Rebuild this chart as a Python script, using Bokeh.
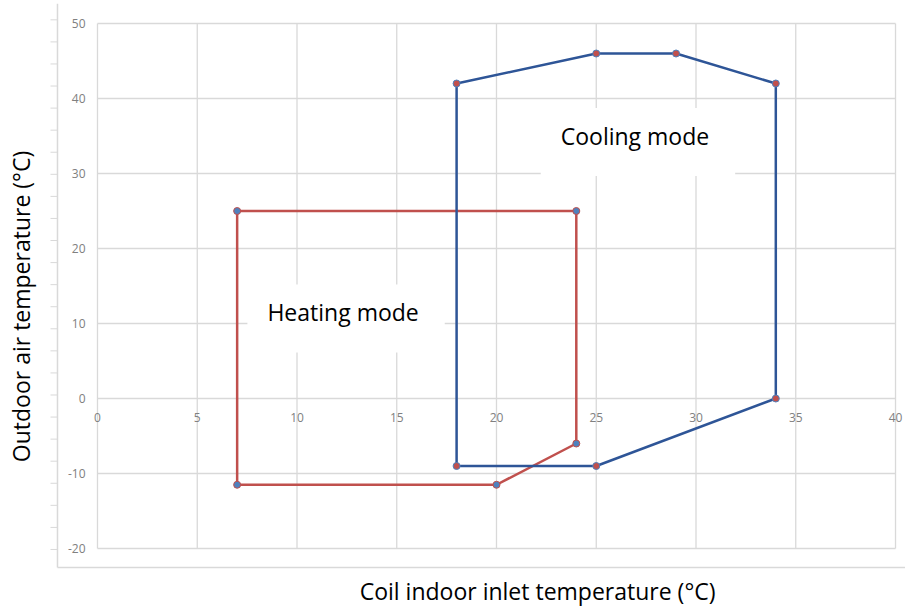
import numpy as np
from bokeh.plotting import figure
from bokeh.models import Range1d, Label
from bokeh.core.properties import value
from bokeh.embed import file_html
from bokeh.resources import INLINE

# ---- data ----
heat_x = [7, 24, 24, 20, 7, 7]
heat_y = [25, 25, -6, -11.5, -11.5, 25]
cool_x = [18, 25, 29, 34, 34, 25, 18, 18]
cool_y = [42, 46, 46, 42, 0, -9, -9, 42]

x_ticks = [0, 5, 10, 15, 20, 25, 30, 35, 40]
y_ticks = [-20, -10, 0, 10, 20, 30, 40, 50]
x_tick_labels = [str(v) for v in x_ticks]
y_tick_labels = [str(v) for v in y_ticks]
outer_ticks = list(np.linspace(-20.13, 50.49, 25))

x_title = "Coil indoor inlet temperature (°C)"
y_title = "Outdoor air temperature (°C)"
cool_text = "Cooling mode"
heat_text = "Heating mode"

RED = "#c0504d"
BLUE = "#2e5597"
MBLUE = "#4f81bd"
GRID = "#d9d9d9"
TICKC = "#808080"
FONT = "Open Sans"

X0, X1 = -4.862, 40.501
Y0, Y1 = -28.4, 52.667
p = figure(width=905, height=611, output_backend="svg", toolbar_location=None,
           title=None, x_range=Range1d(X0, X1), y_range=Range1d(Y0, Y1),
           min_border_left=0, min_border_right=0, min_border_top=3, min_border_bottom=0)
p.outline_line_color = None
p.background_fill_color = "white"
p.border_fill_color = "white"
p.xgrid.visible = False
p.ygrid.visible = False
p.axis.visible = False

# outer frame (left and bottom edges) with small outside ticks on the left edge
ox = -2.005
oy = -22.533
tick_len = 0.351
p.segment(x0=[ox, ox], x1=[ox, X1], y0=[Y1, oy], y1=[oy, oy],
          line_color=GRID, line_width=1.5)
p.segment(x0=[ox - tick_len] * len(outer_ticks), x1=[ox] * len(outer_ticks),
          y0=outer_ticks, y1=outer_ticks, line_color=GRID, line_width=1)

# inner grid
xmin, xmax = x_ticks[0], x_ticks[-1]
ymin, ymax = y_ticks[0], y_ticks[-1]
p.segment(x0=x_ticks, x1=x_ticks, y0=[ymin] * len(x_ticks), y1=[ymax] * len(x_ticks),
          line_color=GRID, line_width=1.3)
p.segment(x0=[xmin] * len(y_ticks), x1=[xmax] * len(y_ticks), y0=y_ticks, y1=y_ticks,
          line_color=GRID, line_width=1.3)

# tick labels
p.text(x=[0] * len(y_ticks), y=y_ticks, text=y_tick_labels, x_offset=-12,
       text_align="right", text_baseline="middle", text_color=TICKC,
       text_font=value(FONT), text_font_size="12px")
p.text(x=x_ticks, y=[0] * len(x_ticks), text=x_tick_labels, y_offset=19,
       text_align="center", text_baseline="middle", text_color=TICKC,
       text_font=value(FONT), text_font_size="12px")

# mode labels with white boxes
box_pad = dict(left=20, right=26, top=12, bottom=24)
p.add_layout(Label(x=27.09, y=34.2, text=cool_text, text_align="center",
                   text_baseline="middle", text_font=FONT, text_font_size="23px",
                   text_color="black", background_fill_color="white", padding=box_pad))
p.add_layout(Label(x=12.46, y=10.67, text=heat_text, text_align="center",
                   text_baseline="middle", text_font=FONT, text_font_size="23px",
                   text_color="black", background_fill_color="white", padding=box_pad))

# series
p.line(heat_x, heat_y, line_color=RED, line_width=2.5)
p.line(cool_x, cool_y, line_color=BLUE, line_width=2.5)
p.scatter(heat_x[:-1], heat_y[:-1], size=7, marker="circle", fill_color=MBLUE,
          line_color=RED, line_width=1)
p.scatter(cool_x[:-1], cool_y[:-1], size=7, marker="circle", fill_color=RED,
          line_color=MBLUE, line_width=1)

# axis titles
p.add_layout(Label(x=22.06, y=-25.6, text=x_title, text_align="center",
                   text_baseline="middle", text_font=FONT, text_font_size="23px",
                   text_color="black"))
p.add_layout(Label(x=-3.81, y=12.27, text=y_title, text_align="center", angle=np.pi / 2,
                   text_baseline="middle", text_font=FONT, text_font_size="23px",
                   text_color="black"))

open("out.html", "w").write(file_html(p, INLINE))
